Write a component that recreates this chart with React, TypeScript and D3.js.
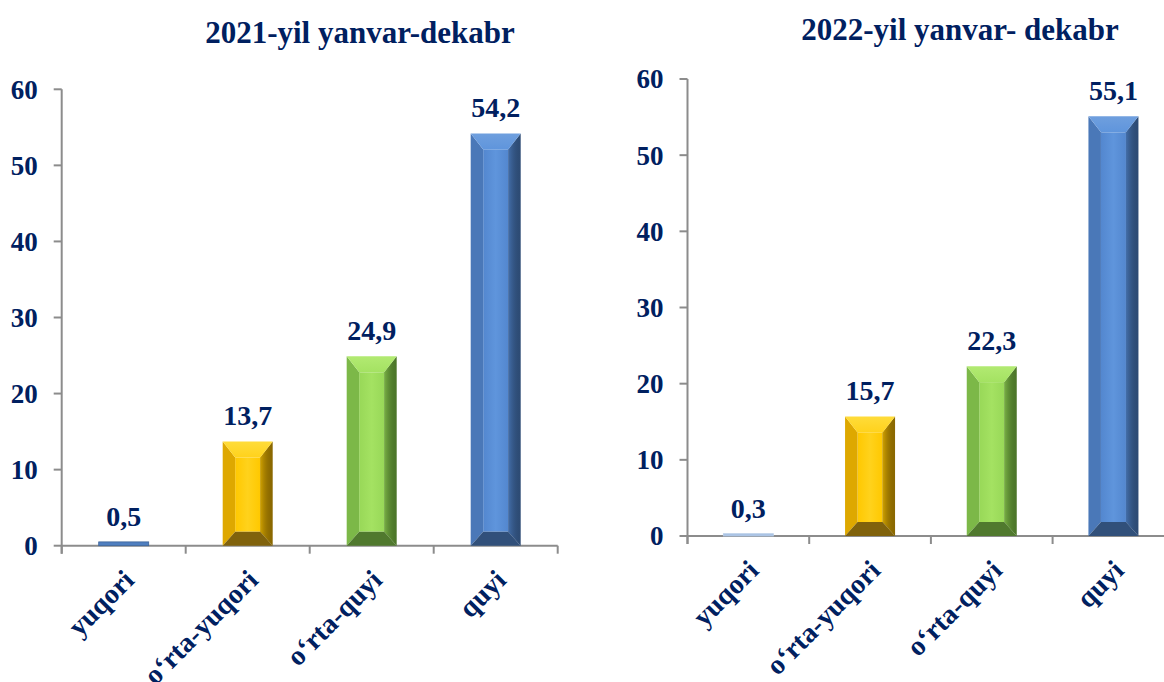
import React from "react";
import * as d3 from "d3";

const categories = ["yuqori", "o‘rta-yuqori", "o‘rta-quyi", "quyi"];
const values2021 = [0.5, 13.7, 24.9, 54.2];
const values2022 = [0.3, 15.7, 22.3, 55.1];
const yTicks = [0, 10, 20, 30, 40, 50, 60];
const barColors = ["blue", "yellow", "green", "blue"];
const title2021 = "2021-yil yanvar-dekabr";
const title2022 = "2022-yil yanvar- dekabr";

const NAVY = "#002060";
const AXIS = "#8c8c8c";
const FONT = "'Liberation Serif', 'Times New Roman', serif";

type Pal = { top: string; left: string; c0: string; c1: string; right: string; bottom: string; flat: string };
const palettes: Record<string, Pal> = {
  blue: { top: "#6f9fde", left: "#4a78b8", c0: "#5387cf", c1: "#5f95dc", right: "#2d4b74", bottom: "#31507a", flat: "#4f7fc0" },
  yellow: { top: "#ffdc3a", left: "#dea800", c0: "#ffc800", c1: "#ffd21c", right: "#8a6800", bottom: "#80620c", flat: "#f0b800" },
  green: { top: "#b2ea72", left: "#7cb848", c0: "#98d858", c1: "#a4e262", right: "#4c7629", bottom: "#50792e", flat: "#8cc850" },
};

function Bar({ x, y, w, h, pal, id, thinColor }: { x: number; y: number; w: number; h: number; pal: Pal; id: string; thinColor?: string }) {
  if (h < 8) {
    return <rect x={x} y={y} width={w} height={Math.max(h, 1.5)} fill={thinColor || pal.flat} stroke={thinColor ? "#b5cbe6" : "#3d6499"} strokeWidth={0.8} />;
  }
  const b = Math.min(13, w / 4, h / 2);
  const bt = Math.min(16, h / 2);
  const bb = Math.min(14, h / 2);
  const gid = `g-${id}`;
  return (
    <g>
      <defs>
        <linearGradient id={gid} x1="0" x2="1" y1="0" y2="0">
          <stop offset="0" stopColor={pal.c0} />
          <stop offset="0.5" stopColor={pal.c1} />
          <stop offset="1" stopColor={pal.c0} />
        </linearGradient>
        <linearGradient id={gid + "r"} x1="0" x2="1" y1="0" y2="0">
          <stop offset="0" stopColor={pal.c0} stopOpacity={0.6} />
          <stop offset="1" stopColor={pal.right} stopOpacity={0} />
        </linearGradient>
        <linearGradient id={gid + "t"} x1="0" x2="0" y1="0" y2="1">
          <stop offset="0" stopColor={pal.top} />
          <stop offset="1" stopColor={pal.c1} />
        </linearGradient>
      </defs>
      <rect x={x + b} y={y + bt} width={w - 2 * b} height={h - bt - bb} fill={`url(#${gid})`} />
      <polygon points={`${x},${y} ${x + b},${y + bt} ${x + b},${y + h - bb} ${x},${y + h}`} fill={pal.left} />
      <polygon points={`${x + w},${y} ${x + w - b},${y + bt} ${x + w - b},${y + h - bb} ${x + w},${y + h}`} fill={pal.right} />
      <polygon points={`${x + w},${y} ${x + w - b},${y + bt} ${x + w - b},${y + h - bb} ${x + w},${y + h}`} fill={`url(#${gid}r)`} />
      <polygon points={`${x},${y} ${x + w},${y} ${x + w - b},${y + bt} ${x + b},${y + bt}`} fill={`url(#${gid}t)`} />
      <polygon points={`${x},${y + h} ${x + w},${y + h} ${x + w - b},${y + h - bb} ${x + b},${y + h - bb}`} fill={pal.bottom} />
    </g>
  );
}

function Chart({ id, values, title, titleX, titleY, x0, x1, y0, y60, clipRight, thinColor }: {
  id: string; values: number[]; title: string; titleX: number; titleY: number;
  x0: number; x1: number; y0: number; y60: number; clipRight: number; thinColor?: string;
}) {
  const step = (x1 - x0) / categories.length;
  const pi = 1 - 50 / step;
  const x = d3.scaleBand<string>().domain(categories).range([x0, x1]).paddingInner(pi).paddingOuter(pi / 2);
  const y = d3.scaleLinear().domain([0, 60]).range([y0, y60]);
  const bw = x.bandwidth();
  const lineEnd = Math.min(x1, clipRight);
  const boundaries = d3.range(categories.length + 1).map((i) => x0 + i * step).filter((v) => v <= clipRight);
  return (
    <g>
      <text x={titleX} y={titleY} textAnchor="middle" fontFamily={FONT} fontWeight="bold" fontSize={31} fill={NAVY}>{title}</text>
      <line x1={x0} x2={x0} y1={y60} y2={y0 + 8} stroke={AXIS} strokeWidth={2} />
      {yTicks.map((t) => (
        <g key={t}>
          <line x1={x0 - 8} x2={x0} y1={y(t)} y2={y(t)} stroke={AXIS} strokeWidth={2} />
          <text x={x0 - 24} y={y(t)} dy="0.35em" textAnchor="end" fontFamily={FONT} fontWeight="bold" fontSize={27} fill={NAVY}>{t}</text>
        </g>
      ))}
      <line x1={x0} x2={lineEnd} y1={y0} y2={y0} stroke={AXIS} strokeWidth={2} />
      {boundaries.map((bx, i) => (
        <line key={i} x1={bx} x2={bx} y1={y0} y2={y0 + 8} stroke={AXIS} strokeWidth={2} />
      ))}
      {categories.map((c, i) => {
        const bx = x(c)!;
        const top = y(values[i]);
        const h = y0 - top;
        return (
          <g key={c}>
            <Bar x={bx} y={top} w={bw} h={h} pal={palettes[barColors[i]]} id={`${id}-${i}`} thinColor={i === 0 ? thinColor : undefined} />
            <text x={bx + bw / 2} y={top - 16} textAnchor="middle" fontFamily={FONT} fontWeight="bold" fontSize={28} fill={NAVY}>
              {values[i].toFixed(1).replace(".", ",")}
            </text>
            <text
              transform={`translate(${bx + bw / 2 + 12},${y0 + 36}) rotate(-45)`}
              textAnchor="end" fontFamily={FONT} fontWeight="bold" fontSize={28} fill={NAVY}
            >{c}</text>
          </g>
        );
      })}
    </g>
  );
}

export default function App() {
  return (
    <svg width={1164} height={682} style={{ position: "absolute", left: 0, top: 0, background: "#fff" }}>
      <rect width={1164} height={682} fill="#fff" />
      <Chart id="a" values={values2021} title={title2021} titleX={360} titleY={43} x0={61.7} x1={557.7} y0={545.7} y60={89.3} clipRight={1164} />
      <Chart id="b" values={values2022} title={title2022} titleX={960} titleY={40} x0={687.5} x1={1174.3} y0={536} y60={79} clipRight={1164} thinColor="#a9c2e4" />
    </svg>
  );
}
